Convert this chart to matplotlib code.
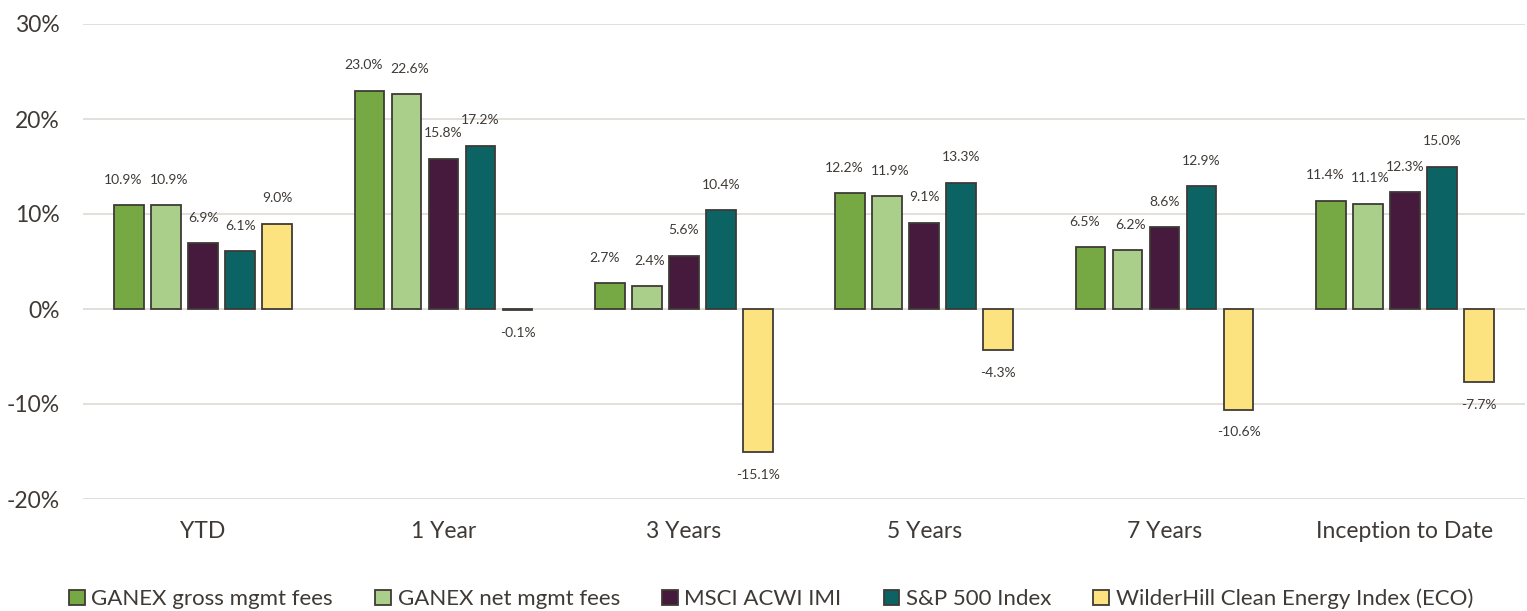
import numpy as np
import matplotlib
matplotlib.use('Agg')
import matplotlib.pyplot as plt
from matplotlib.ticker import FuncFormatter

plt.rcParams['font.family'] = ['Lato', 'DejaVu Sans']

# dados do grafico
periodos = ['YTD', '1 Year', '3 Years', '5 Years', '7 Years', 'Inception to Date']
series = ['GANEX gross mgmt fees', 'GANEX net mgmt fees', 'MSCI ACWI IMI',
          'S&P 500 Index', 'WilderHill Clean Energy Index (ECO)']
ganex_gross = [10.9, 23.0, 2.7, 12.2, 6.5, 11.4]
ganex_net = [10.9, 22.6, 2.4, 11.9, 6.2, 11.1]
msci_acwi = [6.9, 15.8, 5.6, 9.1, 8.6, 12.3]
sp500 = [6.1, 17.2, 10.4, 13.3, 12.9, 15.0]
eco = [9.0, -0.1, -15.1, -4.3, -10.6, -7.7]

valores = [ganex_gross, ganex_net, msci_acwi, sp500, eco]
cores = ['#76A844', '#A9CF8A', '#461A3D', '#0B6363', '#FDE380']
borda = '#3F3A36'
texto = '#3F3A36'

fig = plt.figure(figsize=(15.27, 6.11), dpi=100)
ax = fig.add_axes([83/1527, 1-499/611, 1442/1527, 475/611])

x = np.arange(len(periodos))
largura = 0.123
passo = 0.154
for i, (nome, vals) in enumerate(zip(series, valores)):
    pos = x + (i - 2) * passo
    barras = ax.bar(pos, vals, largura, color=cores[i], edgecolor=borda,
                    linewidth=1.3, label=nome, zorder=3)
    for b, v in zip(barras, vals):
        if v >= 0:
            # primeiro rotulo desviado p/ esquerda (evita sobrepor o vizinho)
            dx = -4 if i == 0 else (2 if i == 1 else 0)
            ax.annotate(f'{v:.1f}%', (b.get_x() + b.get_width()/2, v),
                        xytext=(dx, 14), textcoords='offset points',
                        ha='center', va='bottom', fontsize=10, color=texto)
        else:
            ax.annotate(f'{v:.1f}%', (b.get_x() + b.get_width()/2, v),
                        xytext=(0, -12), textcoords='offset points',
                        ha='center', va='top', fontsize=10, color=texto)

ax.set_xlim(-0.5, len(periodos) - 0.5)
ax.set_ylim(-20, 30)
ax.set_yticks(np.arange(-20, 31, 10))
ax.yaxis.set_major_formatter(FuncFormatter(lambda v, p: f'{v:.0f}%'))
ax.set_xticks(x)
ax.set_xticklabels(periodos)
ax.tick_params(axis='both', length=0, labelsize=16.5, colors=texto)
ax.tick_params(axis='x', pad=16)
ax.tick_params(axis='y', pad=17)
ax.grid(axis='y', color='#E0DCD8', linewidth=1.3, zorder=0)
for s in ax.spines.values():
    s.set_visible(False)

fig.legend(loc='lower center', bbox_to_anchor=(0.505, -0.03), ncol=5, frameon=False,
           fontsize=16, handlelength=0.7, handleheight=0.7, handletextpad=0.3,
           columnspacing=1.9, labelcolor=texto)

fig.savefig('out.png', dpi=100)
